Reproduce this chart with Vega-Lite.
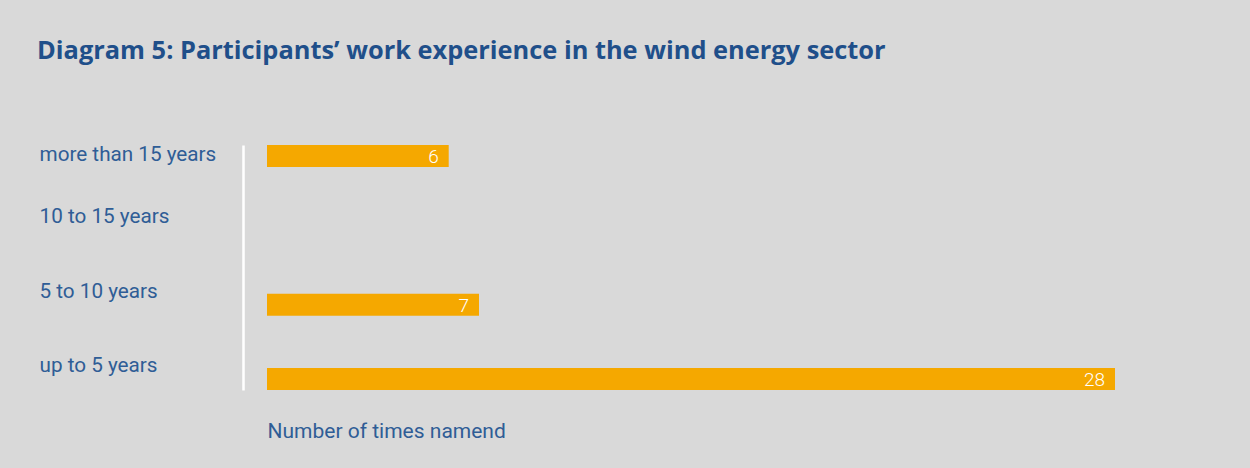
{
  "$schema": "https://vega.github.io/schema/vega-lite/v6.json",
  "autosize": {"type": "none"},
  "width": 848,
  "height": 245,
  "padding": {"left": 267, "top": 145, "right": 135, "bottom": 78},
  "background": "#d9d9d9",
  "config": {"view": {"stroke": null}},
  "title": {
    "text": "Diagram 5: Participants’ work experience in the wind energy sector",
    "anchor": "start",
    "frame": "group",
    "dx": -230,
    "offset": 79,
    "font": "Open Sans",
    "fontSize": 25.4,
    "fontWeight": "bold",
    "color": "#1f4f8a"
  },
  "data": {
    "values": [
      {"category": "more than 15 years", "count": 6},
      {"category": "10 to 15 years", "count": 0},
      {"category": "5 to 10 years", "count": 7},
      {"category": "up to 5 years", "count": 28}
    ]
  },
  "encoding": {
    "y": {
      "field": "category",
      "type": "nominal",
      "sort": null,
      "scale": {
        "domain": ["more than 15 years", "10 to 15 years", "5 to 10 years", "up to 5 years"],
        "paddingInner": 0.704,
        "paddingOuter": 0
      },
      "axis": {
        "title": null,
        "offset": 24,
        "domainColor": "#ffffff",
        "domainWidth": 2.5,
        "ticks": false,
        "labelAlign": "left",
        "labelPadding": 204,
        "labelOffset": {"condition": {"test": "datum.value == 'more than 15 years'", "value": -1}, "value": -13},
        "labelFont": "Roboto",
        "labelFontSize": 20.7,
        "labelColor": "#2f5d96"
      }
    },
    "x": {
      "field": "count",
      "type": "quantitative",
      "scale": {"domain": [0, 28], "nice": false},
      "axis": {
        "title": "Number of times namend",
        "titleAnchor": "start",
        "titleAlign": "left",
        "titleFont": "Roboto",
        "titleFontSize": 21,
        "titleFontWeight": "normal",
        "titleColor": "#2f5d96",
        "titlePadding": 30,
        "domain": false,
        "ticks": false,
        "labels": false,
        "grid": false
      }
    }
  },
  "layer": [
    {
      "transform": [{"filter": "datum.count > 0"}],
      "mark": {"type": "bar", "color": "#f5a800"}
    },
    {
      "transform": [{"filter": "datum.count > 0"}],
      "mark": {"type": "text", "align": "right", "dx": -10, "dy": 1, "font": "Roboto", "fontSize": 19, "fontWeight": 300, "color": "#ffffff"},
      "encoding": {"text": {"field": "count", "type": "quantitative"}}
    }
  ]
}
